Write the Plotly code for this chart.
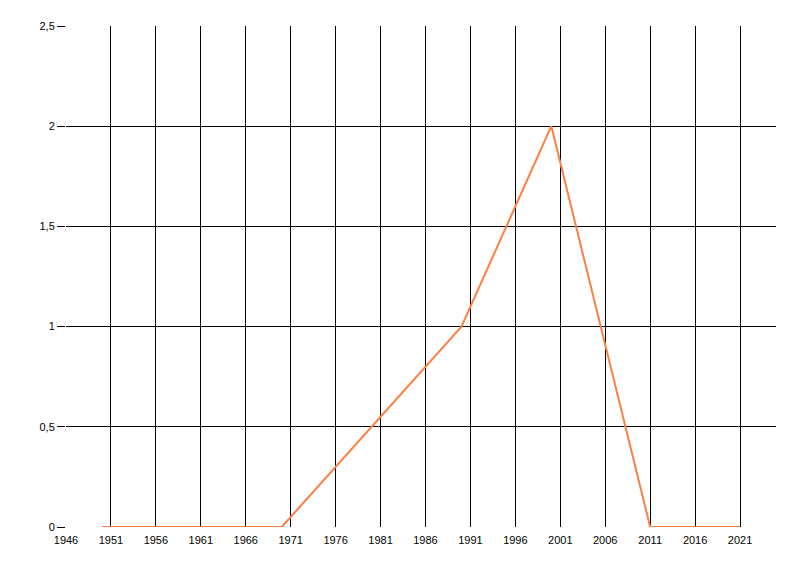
import plotly.graph_objects as go

years = [1950, 1970, 1990, 2000, 2011, 2021]
values = [0, 0, 1, 2, 0, 0]

x_ticks = list(range(1946, 2022, 5))
x_labels = [str(v) for v in x_ticks]
y_ticks = [0, 0.5, 1, 1.5, 2, 2.5]
y_labels = ["0", "0,5", "1", "1,5", "2", "2,5"]

fig = go.Figure()
fig.add_trace(go.Scatter(x=years, y=values, mode="lines",
                         line=dict(color="#FF7F40", width=2)))

# page body has an 8px margin, so offsets are compensated here
fig.update_layout(
    width=800, height=576,
    margin=dict(l=58, r=32, t=18, b=57, autoexpand=False),
    paper_bgcolor="white", plot_bgcolor="white",
    showlegend=False,
    font=dict(family="Liberation Sans", size=11, color="black"),
)
fig.update_xaxes(range=[1946, 2025], tickvals=x_ticks, ticktext=x_labels,
                 showgrid=True, gridcolor="black", gridwidth=1,
                 zeroline=False, showline=False, automargin=False,
                 ticks="outside", ticklen=3, tickcolor="rgba(0,0,0,0)",
                 tickfont=dict(size=11))
fig.update_yaxes(range=[0, 2.5], tickvals=y_ticks, ticktext=y_labels,
                 showgrid=True, gridcolor="black", gridwidth=1,
                 zeroline=False, showline=False, automargin=False,
                 ticks="outside", ticklen=8, tickcolor="black",
                 tickfont=dict(size=11))

fig.write_html("out.html")
